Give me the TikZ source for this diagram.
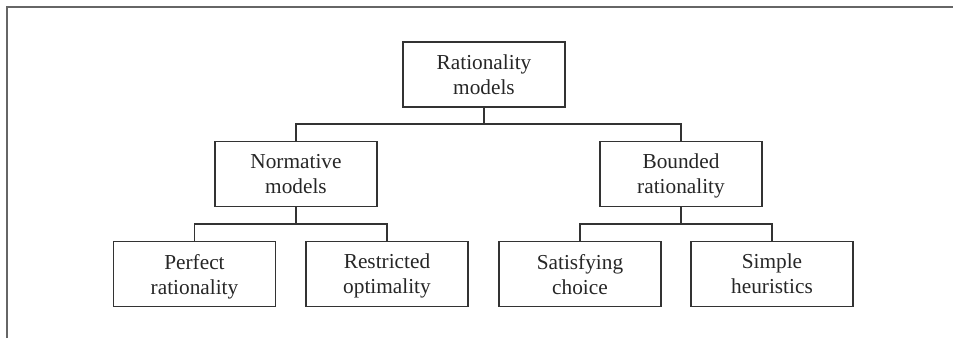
\documentclass[tikz,border=0pt]{standalone}
\usepackage{fontspec}
\setmainfont{Liberation Serif}
\newcommand{\twoline}[2]{\rule{0pt}{14pt}#1\\\raisebox{0pt}[\height][0pt]{#2}}
\begin{document}
\begin{tikzpicture}[x=1pt,y=-1pt,
  box/.style={draw=black!80,line width=1.1pt,minimum width=162pt,minimum height=65pt,inner sep=0pt,align=center,font=\fontsize{21.3}{25}\selectfont,text=black!85},
  link/.style={draw=black!80,line width=1.1pt}]
\useasboundingbox (0,0) rectangle (953,338);
\draw[line width=1.6pt,black!60] (7,338) -- (7,7) -- (953,7);
\node[box] (top) at (484,74.5) {\twoline{Rationality}{models}};
\node[box] (norm) at (296,174) {\twoline{Normative}{models}};
\node[box] (bound) at (681,174) {\twoline{Bounded}{rationality}};
\node[box] (perf) at (194.5,274) {\twoline{Perfect}{rationality}};
\node[box] (restr) at (387,274) {\twoline{Restricted}{optimality}};
\node[box] (sat) at (580,274) {\twoline{Satisfying}{choice}};
\node[box] (simp) at (772,274) {\twoline{Simple}{heuristics}};
\coordinate (b1) at (484,124);
\coordinate (b2) at (296,224);
\coordinate (b3) at (681,224);
\draw[link] (top.south) -- (b1);
\draw[link] (norm.north) |- (b1) -| (bound.north);
\draw[link] (norm.south) -- (b2);
\draw[link] (perf.north) |- (b2) -| (restr.north);
\draw[link] (bound.south) -- (b3);
\draw[link] (sat.north) |- (b3) -| (simp.north);
\end{tikzpicture}
\end{document}
